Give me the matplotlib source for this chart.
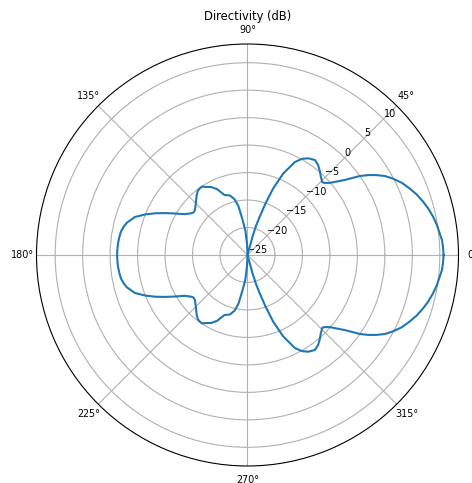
import numpy as np
import matplotlib
matplotlib.use("Agg")
import matplotlib.pyplot as plt

# --- data (upper half, 0..180 deg) ---
angle_deg = [0, 2.4, 4.4, 6.4, 9.0, 11.6, 14.5, 16.9, 19.7, 22.3,
             25.1, 27.7, 29.9, 31.8, 33.5, 35.1, 37.6, 40.0, 41.2, 43.3,
             44.4, 45.5, 46.8, 49.0, 51.8, 54.6, 57.8, 60.5, 63.0, 66.3,
             68.9, 70.7, 72.3, 73.7, 74.6, 75.5, 91.0, 92.5, 95.0, 98.0,
             100.5, 103.0, 106.5, 111.0, 114.8, 118.0, 121.9, 123.6, 125.5, 127.5,
             130.3, 133.0, 135.0, 139.4, 141.7, 143.2, 146.9, 150.2, 153.0, 155.7,
             158.4, 161.3, 164.9, 167.0, 169.3, 172.0, 174.7, 177.0, 180.0]
directivity_db = [10.7, 10.6, 10.5, 10.2, 9.9, 9.5, 8.95, 8.4, 7.7, 6.9,
                  6.0, 4.9, 3.84, 2.6, 1.35, 0.0, -2.6, -4.3, -5.07, -5.87,
                  -6.0, -5.75, -5.5, -4.9, -4.2, -3.8, -4.2, -4.9, -6.0, -8.8,
                  -12.0, -15.0, -17.7, -19.5, -21.5, -25.0, -25.0, -23.0, -20.5, -18.5,
                  -16.0, -14.6, -13.7, -13.3, -11.8, -11.0, -10.4, -10.05, -10.1, -10.2,
                  -10.7, -11.3, -11.7, -12.4, -12.5, -12.3, -11.4, -9.8, -8.2, -6.55,
                  -4.96, -3.4, -2.3, -1.9, -1.6, -1.45, -1.35, -1.3, -1.27]

r_ticks = [-25, -20, -15, -10, -5, 0, 5, 10]

# pattern is symmetric about the 0-180 axis
upper = np.array(angle_deg)
lower = 360 - upper[::-1][1:]
theta = np.deg2rad(np.concatenate([upper, lower]))
vals = np.concatenate([directivity_db, directivity_db[::-1][1:]])

fig = plt.figure(figsize=(4.72, 4.83), dpi=100)
ax = fig.add_axes([0.0773, 0.0352, 0.8941, 0.8737], projection='polar')

ax.plot(theta, vals, color='#1f77b4', linewidth=1.5)
ax.set_ylim(-25, 13.4)
ax.set_rticks(r_ticks)
ax.set_rlabel_position(45)
ax.tick_params(labelsize=6.9)
ax.tick_params(axis='x', pad=-0.5)
ax.set_title("Directivity (dB)", fontsize=8.3, y=1.057, pad=0)

fig.savefig("out.png", dpi=100)
